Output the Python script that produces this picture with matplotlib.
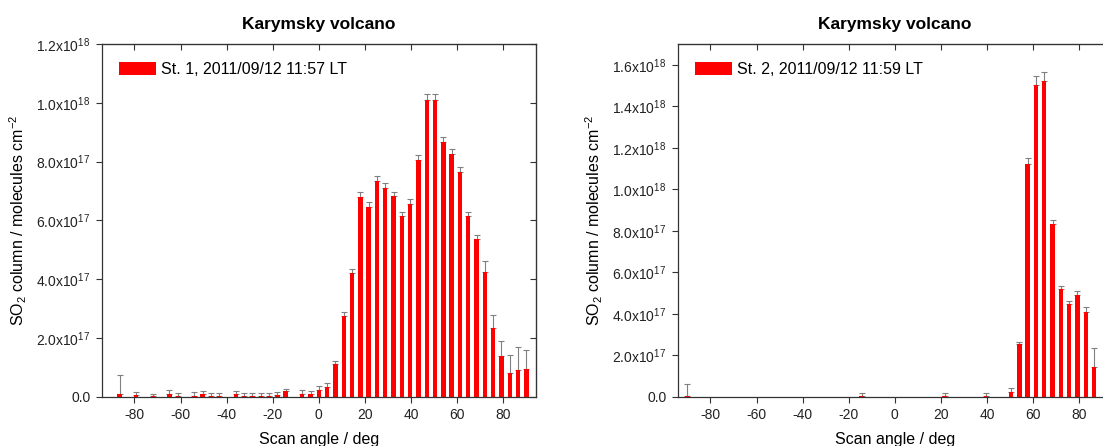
import numpy as np
import matplotlib
matplotlib.use('Agg')
import matplotlib.pyplot as plt

plt.rcParams['font.family'] = ['Liberation Sans', 'DejaVu Sans']
plt.rcParams['mathtext.default'] = 'regular'
plt.rcParams['axes.unicode_minus'] = False

# station 1 scan (scan angle in deg, SO2 column in 1e17 molecules/cm2)
ang1 = [-86.4, -79.2, -72, -64.8, -61.2, -54, -50.4, -46.8, -43.2, -36, -32.4,
        -28.8, -25.2, -21.6, -18, -14.4, -7.2, -3.6, 0, 3.6, 7.2, 10.8, 14.4,
        18, 21.6, 25.2, 28.8, 32.4, 36, 39.6, 43.2, 46.8, 50.4, 54, 57.6, 61.2,
        64.8, 68.4, 72, 75.6, 79.2, 82.8, 86.4, 90]
so2_1 = [0.10, 0.05, 0.02, 0.10, 0.04, 0.04, 0.08, 0.04, 0.03, 0.08, 0.02,
         0.03, 0.02, 0.02, 0.06, 0.18, 0.09, 0.09, 0.23, 0.34, 1.10, 2.75, 4.20,
         6.80, 6.47, 7.35, 7.11, 6.83, 6.15, 6.56, 8.04, 10.10, 10.10, 8.66, 8.27, 7.64,
         6.14, 5.36, 4.25, 2.34, 1.39, 0.79, 0.91, 0.93]
err_1 = [0.63, 0.10, 0.08, 0.12, 0.09, 0.11, 0.10, 0.10, 0.10, 0.10, 0.10,
         0.11, 0.11, 0.12, 0.09, 0.09, 0.13, 0.10, 0.12, 0.14, 0.10, 0.12, 0.13,
         0.17, 0.15, 0.17, 0.16, 0.15, 0.14, 0.15, 0.18, 0.20, 0.19, 0.18, 0.17, 0.17,
         0.15, 0.15, 0.38, 0.45, 0.49, 0.62, 0.77, 0.66]

# station 2 scan
ang2 = [-90, -14.4, 21.6, 39.6, 50.4, 54, 57.6, 61.2, 64.8, 68.4, 72, 75.6,
        79.2, 82.8, 86.4]
so2_2 = [0.02, 0.03, 0.03, 0.03, 0.24, 2.53, 11.21, 15.02, 15.21, 8.32, 5.18,
         4.47, 4.92, 4.10, 1.42]
err_2 = [0.59, 0.13, 0.13, 0.13, 0.16, 0.12, 0.31, 0.42, 0.42, 0.20, 0.17,
         0.14, 0.17, 0.22, 0.93]

labels = ['St. 1, 2011/09/12 11:57 LT', 'St. 2, 2011/09/12 11:59 LT']


def fmt(v):
    if v == 0:
        return '0.0'
    e = int(np.floor(np.log10(v) + 1e-9))
    return r'$%.1fx10^{%d}$' % (v / 10**e, e)


fig = plt.figure(figsize=(11.03, 4.46), dpi=100)
W, H = 1103, 446
ax1 = fig.add_axes([101.7 / W, 49.3 / H, 434.3 / W, 352.7 / H])
ax2 = fig.add_axes([677.7 / W, 49.3 / H, 434.3 / W, 352.7 / H])

panels = [(ax1, ang1, so2_1, err_1, labels[0], 1.2e18, np.arange(0, 1.21e18, 2e17)),
          (ax2, ang2, so2_2, err_2, labels[1], 1.7e18, np.arange(0, 1.61e18, 2e17))]

for ax, ang, val, err, lab, ymax, yt in panels:
    v = np.array(val) * 1e17
    e = np.array(err) * 1e17
    ax.errorbar(ang, v, yerr=[np.zeros_like(e), e], fmt='none', ecolor='#808080',
                elinewidth=0.8, capsize=2.5, capthick=0.8, zorder=1)
    ax.bar(ang, v, width=1.9, color='#ff0000', label=lab, zorder=2)
    ax.set_xlim(-94.2, 94.2)
    ax.set_ylim(0, ymax)
    ax.set_xticks(range(-80, 81, 20))
    ax.set_yticks(yt)
    ax.set_yticklabels([fmt(t) for t in yt])
    ax.tick_params(direction='out', length=4.5, width=0.8, labelsize=10, colors='#333333')
    ax.tick_params(labelcolor='#222222')
    sx = ax.secondary_xaxis('top')
    sx.set_xticks(range(-80, 81, 20))
    sx.tick_params(direction='in', length=4.5, width=0.8, labeltop=False, colors='#333333')
    sy = ax.secondary_yaxis('right')
    sy.set_yticks(yt)
    sy.tick_params(direction='in', length=4.5, width=0.8, labelright=False, colors='#333333')
    for s in ax.spines.values():
        s.set_linewidth(0.9)
        s.set_color('#333333')
    ax.set_title('Karymsky volcano', fontsize=12.5, fontweight='bold', pad=11)
    ax.set_xlabel('Scan angle / deg', fontsize=11.5, labelpad=7)
    ax.set_ylabel('SO$_2$ column / molecules cm$^{-2}$', fontsize=11.5, labelpad=5)
    ax.legend(loc='upper left', frameon=False, fontsize=11.5, handlelength=2.3,
              handleheight=0.95, handletextpad=0.3, borderaxespad=0.7)

fig.savefig('out.png', dpi=100)
